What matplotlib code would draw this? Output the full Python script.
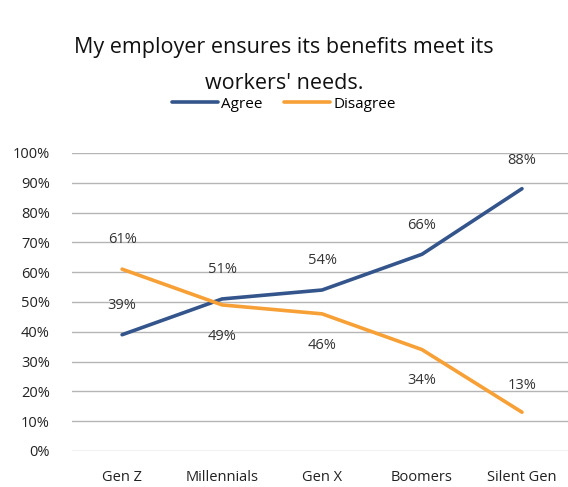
import matplotlib.pyplot as plt
from matplotlib.ticker import PercentFormatter

plt.rcParams['font.family'] = ['Open Sans', 'DejaVu Sans']

generations = ['Gen Z', 'Millennials', 'Gen X', 'Boomers', 'Silent Gen']
agree = [39, 51, 54, 66, 88]
disagree = [61, 49, 46, 34, 13]

# label offsets in points: positive above the point, negative below
agree_offsets = [21, 21, 21, 21, 20]
disagree_offsets = [21, -23, -23, -22, 19]

blue = '#34558b'
orange = '#f7a035'

fig = plt.figure(figsize=(5.68, 4.87), dpi=100)
ax = fig.add_axes([0.127, 0.074, 0.88, 0.612])

x = range(len(generations))
ax.plot(x, [v / 100 for v in agree], color=blue, lw=2.6, label='Agree', solid_capstyle='round')
ax.plot(x, [v / 100 for v in disagree], color=orange, lw=2.6, label='Disagree', solid_capstyle='round')

for i, v in enumerate(agree):
    ax.annotate(f'{v}%', (i, v / 100), xytext=(0, agree_offsets[i]), textcoords='offset points',
                ha='center', va='center', fontsize=10.5, color='#333333')
for i, v in enumerate(disagree):
    ax.annotate(f'{v}%', (i, v / 100), xytext=(0, disagree_offsets[i]), textcoords='offset points',
                ha='center', va='center', fontsize=10.5, color='#333333')

ax.set_xlim(-0.5, 4.5)
ax.set_ylim(0, 1)
ax.set_yticks([i / 10 for i in range(11)])
ax.yaxis.set_major_formatter(PercentFormatter(1.0, decimals=0))
ax.set_xticks(list(x))
ax.set_xticklabels(generations)
ax.grid(axis='y', color='#b5b5b5', lw=1)
ax.set_axisbelow(True)
for s in ax.spines.values():
    s.set_visible(False)
ax.tick_params(length=0, labelsize=10.5, labelcolor='#222222')
ax.tick_params(axis='x', pad=14)
ax.tick_params(axis='y', pad=16)

fig.text(0.5, 0.865, "My employer ensures its benefits meet its\nworkers' needs.",
         ha='center', va='center', fontsize=15.5, linespacing=1.95, color='#111111',
         fontweight='medium')
fig.legend(loc='center', bbox_to_anchor=(0.5, 0.786), ncol=2, frameon=False, fontsize=11,
           handlelength=3.0, handletextpad=0.2, columnspacing=1.4)

fig.savefig('out.png', dpi=100)
